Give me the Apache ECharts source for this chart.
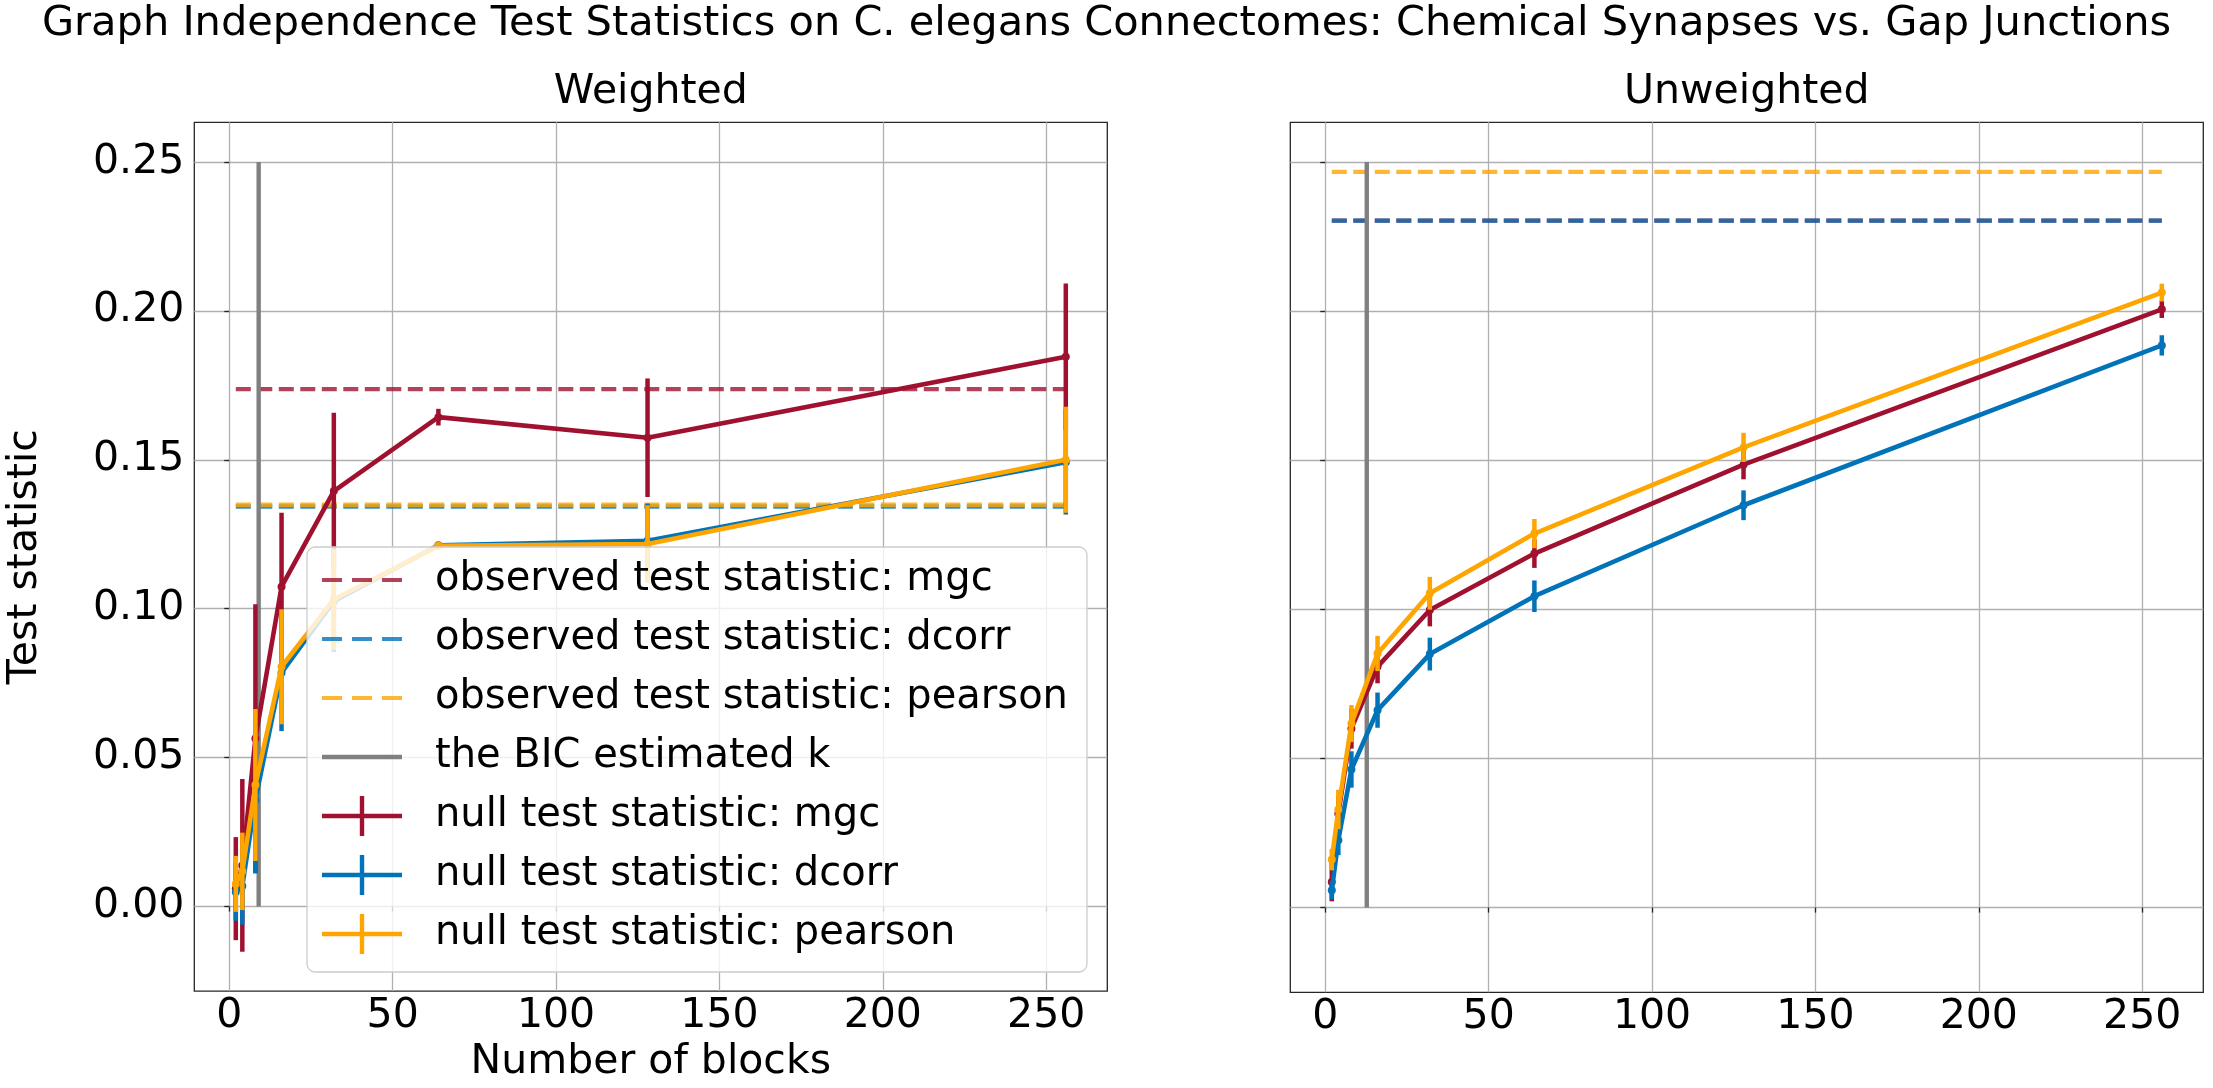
<!DOCTYPE html>
<html>
<head>
<meta charset="utf-8">
<script src="https://cdn.jsdelivr.net/npm/echarts@6/dist/echarts.min.js"></script>
<style>
html, body { margin: 0; padding: 0; background: #fff; }
#echart { width: 2213px; height: 1088px; }
</style>
</head>
<body>
<div id="echart"></div>
<script>
var blocks = [2, 4, 8, 16, 32, 64, 128, 256];
var xTicks = [0, 50, 100, 150, 200, 250];
var yTicks = [0, 0.05, 0.10, 0.15, 0.20, 0.25];

// weighted panel
var wMgc = [0.0060, 0.0138, 0.0564, 0.1074, 0.1395, 0.1643, 0.1574, 0.1846];
var wMgcErr = [0.0173, 0.0290, 0.0451, 0.0248, 0.0263, 0.0028, 0.0199, 0.0246];
var wDcorr = [0.0049, 0.0069, 0.0358, 0.0785, 0.1025, 0.1213, 0.1228, 0.1492];
var wDcorrErr = [0.0097, 0.0130, 0.0247, 0.0196, 0.0170, 0.0010, 0.0125, 0.0176];
var wPearson = [0.0076, 0.0118, 0.0408, 0.0805, 0.1031, 0.1211, 0.1217, 0.1500];
var wPearsonErr = [0.0094, 0.0130, 0.0255, 0.0193, 0.0170, 0.0010, 0.0130, 0.0178];
var wObserved = { mgc: 0.1737, dcorr: 0.1343, pearson: 0.1349 };
var wBic = 9;

// unweighted panel
var uMgc = [0.0086, 0.0315, 0.0600, 0.0808, 0.0998, 0.1187, 0.1485, 0.2006];
var uMgcErr = [0.0065, 0.0060, 0.0067, 0.0056, 0.0055, 0.0048, 0.0049, 0.0029];
var uDcorr = [0.0058, 0.0226, 0.0463, 0.0662, 0.0850, 0.1044, 0.1349, 0.1885];
var uDcorrErr = [0.0030, 0.0050, 0.0061, 0.0059, 0.0055, 0.0053, 0.0050, 0.0034];
var uPearson = [0.0161, 0.0329, 0.0617, 0.0852, 0.1054, 0.1254, 0.1543, 0.2062];
var uPearsonErr = [0.0036, 0.0066, 0.0062, 0.0059, 0.0055, 0.0049, 0.0049, 0.0030];
var uObserved = { mgc: 0.2303, dcorr: 0.2303, pearson: 0.2467 };
var uBic = 12.7;

var bicRange = [0, 0.25];

var RED = '#a0112f', BLUE = '#0173b9', ORANGE = '#ffa500', GRAY = '#808080';
var RED_A = 'rgba(160,17,47,0.8)', BLUE_A = 'rgba(1,115,185,0.8)', ORANGE_A = 'rgba(255,165,0,0.8)';
var FONT = 'DejaVu Sans';
var FS = 41;

var myChart = echarts.init(document.getElementById('echart'));

function dashedLine(name, gi, v, color) {
    return {
        name: name, type: 'line', xAxisIndex: gi, yAxisIndex: gi,
        data: [[blocks[0], v], [blocks[blocks.length - 1], v]],
        symbol: 'none', silent: true, z: 2,
        itemStyle: { color: color },
        lineStyle: { color: color, width: 4.3, type: [15, 6.5] }
    };
}

function bicLine(name, gi, k) {
    return {
        name: name, type: 'line', xAxisIndex: gi, yAxisIndex: gi,
        data: [[k, bicRange[0]], [k, bicRange[1]]],
        symbol: 'none', silent: true, z: 2,
        itemStyle: { color: GRAY },
        lineStyle: { color: GRAY, width: 4.4 }
    };
}

function nullLine(name, gi, mean, color, z) {
    return {
        name: name, type: 'line', xAxisIndex: gi, yAxisIndex: gi,
        data: blocks.map(function (b, i) { return [b, mean[i]]; }),
        symbol: 'circle', symbolSize: 8, showSymbol: true, silent: true, z: z,
        itemStyle: { color: color, borderWidth: 0 },
        lineStyle: { color: color, width: 4.6 }
    };
}

function errBars(gi, mean, err, color, z) {
    return {
        type: 'custom', xAxisIndex: gi, yAxisIndex: gi, silent: true, z: z,
        data: blocks.map(function (b, i) { return [b, mean[i] - err[i], mean[i] + err[i]]; }),
        encode: { x: 0, y: [1, 2] },
        renderItem: function (params, api) {
            var lo = api.coord([api.value(0), api.value(1)]);
            var hi = api.coord([api.value(0), api.value(2)]);
            return {
                type: 'line',
                shape: { x1: lo[0], y1: lo[1], x2: hi[0], y2: hi[1] },
                style: { stroke: color, lineWidth: 4.5 }
            };
        }
    };
}

function xAxisOf(gi, nameText) {
    return {
        type: 'value', gridIndex: gi, min: -10.7, max: 268.7,
        name: nameText, nameLocation: 'middle', nameGap: 50,
        nameTextStyle: { fontSize: FS, fontFamily: FONT, color: '#000' },
        axisLine: { show: false },
        axisTick: { show: true, inside: false, length: 5, customValues: xTicks,
            lineStyle: { color: '#262626', width: 1.3 } },
        axisLabel: { customValues: xTicks, margin: 5, fontSize: FS, fontFamily: FONT, color: '#000' },
        splitLine: { show: true, lineStyle: { color: '#b0b0b0', width: 1.3 } }
    };
}

function yAxisOf(gi, showLabels, nameText) {
    return {
        type: 'value', gridIndex: gi, min: -0.0284, max: 0.2633,
        name: nameText, nameLocation: 'middle', nameGap: 148,
        nameTextStyle: { fontSize: FS, fontFamily: FONT, color: '#000' },
        axisLine: { show: false },
        axisTick: { show: true, inside: false, length: 5, customValues: yTicks,
            lineStyle: { color: '#262626', width: 1.3 } },
        axisLabel: { show: showLabels, customValues: yTicks, margin: 10, fontSize: FS, fontFamily: FONT, color: '#000',
            formatter: function (v) { return v.toFixed(2); } },
        splitLine: { show: true, lineStyle: { color: '#b0b0b0', width: 1.3 } }
    };
}

// legend handles: invisible corner points fix the icon box at 108 x 40
var dashIcon = 'path://M0 0M108 40M0 18L20 18L20 22L0 22ZM30 18L50 18L50 22L30 22ZM60 18L80 18L80 22L60 22Z';
var solidIcon = 'path://M0 0M108 40M0 17.8L80 17.8L80 22.2L0 22.2Z';
var crossIcon = 'path://M0 0M108 40M0 17.8L80 17.8L80 22.2L0 22.2ZM37.8 0L42.2 0L42.2 40L37.8 40Z';

var legendNames = [
    'observed test statistic: mgc',
    'observed test statistic: dcorr',
    'observed test statistic: pearson',
    'the BIC estimated k',
    'null test statistic: mgc',
    'null test statistic: dcorr',
    'null test statistic: pearson'
];
var legendIcons = [dashIcon, dashIcon, dashIcon, solidIcon, crossIcon, crossIcon, crossIcon];
var legendColors = [RED_A, BLUE_A, ORANGE_A, GRAY, RED, BLUE, ORANGE];

var option = {
    animation: false,
    backgroundColor: '#fff',
    textStyle: { fontFamily: FONT },
    graphic: [
        { type: 'text', x: 1106.5, y: 45.6, style: { text: 'Graph Independence Test Statistics on C. elegans Connectomes: Chemical Synapses vs. Gap Junctions',
            font: '41.5px "DejaVu Sans"', fill: '#000', align: 'center', verticalAlign: 'bottom' } },
        { type: 'text', x: 650.8, y: 113, style: { text: 'Weighted',
            font: FS + 'px "DejaVu Sans"', fill: '#000', align: 'center', verticalAlign: 'bottom' } },
        { type: 'text', x: 1746.8, y: 113, style: { text: 'Unweighted',
            font: FS + 'px "DejaVu Sans"', fill: '#000', align: 'center', verticalAlign: 'bottom' } }
    ],
    grid: [
        { left: 194.3, top: 122.3, width: 913, height: 870, show: true, borderColor: '#262626', borderWidth: 1.3, backgroundColor: 'transparent' },
        { left: 1290.3, top: 122.3, width: 913, height: 870, show: true, borderColor: '#262626', borderWidth: 1.3, backgroundColor: 'transparent' }
    ],
    xAxis: [xAxisOf(0, 'Number of blocks'), xAxisOf(1, '')],
    yAxis: [yAxisOf(0, true, 'Test statistic'), yAxisOf(1, false, '')],
    legend: {
        orient: 'vertical', left: 307, top: 547, z: 20,
        selectedMode: false,
        itemWidth: 108, itemHeight: 40, itemGap: 18,
        padding: [12.5, 19, 17.5, 15],
        backgroundColor: 'rgba(255,255,255,0.8)',
        borderColor: '#cccccc', borderWidth: 1.3, borderRadius: 8,
        itemStyle: { borderWidth: 0 },
        textStyle: { fontSize: 40, lineHeight: 41, fontFamily: FONT, color: '#000' },
        data: legendNames.map(function (n, i) {
            return { name: n, icon: legendIcons[i], itemStyle: { color: legendColors[i], borderWidth: 0 } };
        })
    },
    series: [
        dashedLine(legendNames[0], 0, wObserved.mgc, RED_A),
        dashedLine(legendNames[1], 0, wObserved.dcorr, BLUE_A),
        dashedLine(legendNames[2], 0, wObserved.pearson, ORANGE_A),
        bicLine(legendNames[3], 0, wBic),
        errBars(0, wMgc, wMgcErr, RED, 3),
        nullLine(legendNames[4], 0, wMgc, RED, 4),
        errBars(0, wDcorr, wDcorrErr, BLUE, 5),
        nullLine(legendNames[5], 0, wDcorr, BLUE, 6),
        errBars(0, wPearson, wPearsonErr, ORANGE, 7),
        nullLine(legendNames[6], 0, wPearson, ORANGE, 8),

        dashedLine('uw observed mgc', 1, uObserved.mgc, RED_A),
        dashedLine('uw observed dcorr', 1, uObserved.dcorr, BLUE_A),
        dashedLine('uw observed pearson', 1, uObserved.pearson, ORANGE_A),
        bicLine('uw BIC k', 1, uBic),
        errBars(1, uMgc, uMgcErr, RED, 3),
        nullLine('uw null mgc', 1, uMgc, RED, 4),
        errBars(1, uDcorr, uDcorrErr, BLUE, 5),
        nullLine('uw null dcorr', 1, uDcorr, BLUE, 6),
        errBars(1, uPearson, uPearsonErr, ORANGE, 7),
        nullLine('uw null pearson', 1, uPearson, ORANGE, 8)
    ]
};
myChart.setOption(option);
</script>
</body>
</html>
